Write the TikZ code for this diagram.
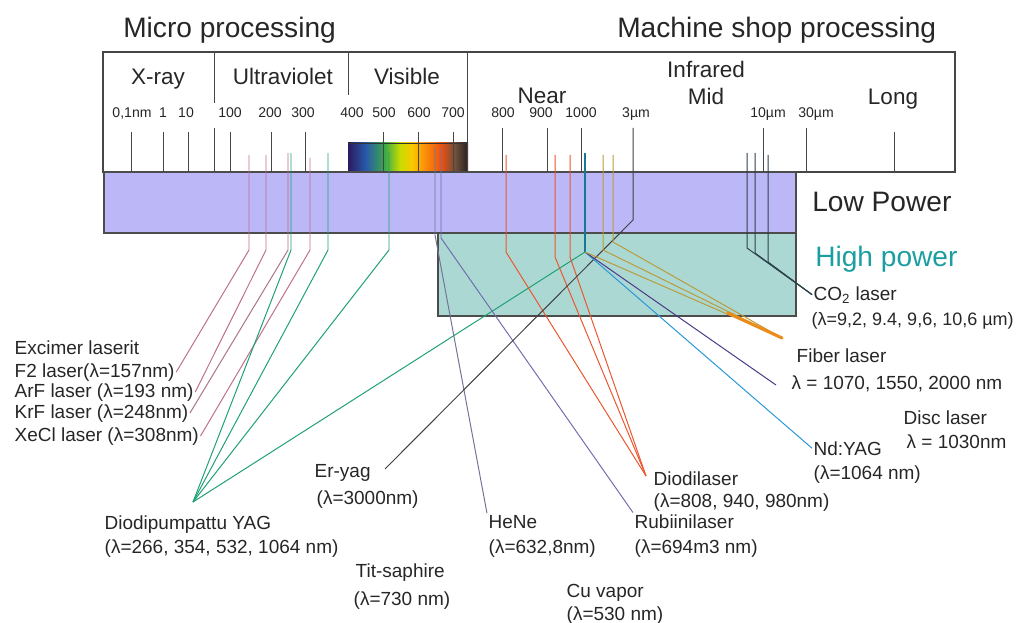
\documentclass[tikz,border=0pt]{standalone}
\usepackage{fontspec}
\setmainfont{Liberation Sans}
\usetikzlibrary{positioning}
\definecolor{lowpow}{RGB}{188,184,248}
\definecolor{highpow}{RGB}{172,216,212}
\definecolor{hptext}{RGB}{26,158,160}
\definecolor{tickgray}{RGB}{70,70,70}
\definecolor{excimer}{RGB}{190,110,140}
\definecolor{yaggreen}{RGB}{30,160,115}
\definecolor{yagblue}{RGB}{25,120,150}
\definecolor{diodered}{RGB}{235,85,45}
\definecolor{ndblue}{RGB}{40,150,215}
\definecolor{fiberpurple}{RGB}{75,55,135}
\definecolor{fiberorange}{RGB}{235,140,25}
\definecolor{fiberolive}{RGB}{185,155,60}
\definecolor{cotwo}{RGB}{45,65,75}
\definecolor{heneclr}{RGB}{115,115,150}
\definecolor{rubiclr}{RGB}{110,110,175}
\definecolor{vis1}{RGB}{45,25,95}
\definecolor{vis2}{RGB}{40,90,170}
\definecolor{vis3}{RGB}{60,170,70}
\definecolor{vis4}{RGB}{200,220,0}
\definecolor{vis5}{RGB}{250,200,0}
\definecolor{vis6}{RGB}{250,130,10}
\definecolor{vis7}{RGB}{230,80,20}
\definecolor{vis8}{RGB}{110,80,60}
\definecolor{vis9}{RGB}{40,30,30}

\begin{document}
\begin{tikzpicture}[x=0.025cm, y=-0.025cm,
  lbl/.style={font=\fontsize{13.5}{16}\selectfont, anchor=base west, inner sep=1pt, text=black!85},
  tk/.style={font=\fontsize{10}{11}\selectfont, anchor=base, inner sep=0pt, text=black!85},
  band/.style={font=\fontsize{16}{18}\selectfont, anchor=base, inner sep=0pt, text=black!85},
  big/.style={font=\fontsize{20}{22}\selectfont, anchor=base west, inner sep=0pt},
  tickline/.style={draw=tickgray, line width=0.6pt},
  laser/.style={line width=0.7pt}]
  \useasboundingbox (0,0) rectangle (1017,623);

  % 标题
  \node[big, text=black!85] (micro) at (123,38) {Micro processing};
  \node[big, text=black!85] (machine) at (617,38) {Machine shop processing};

  % 光谱框
  \draw[tickgray, line width=0.8pt] (103,52) rectangle (955,172);
  \draw[fill=lowpow, draw=black!70, line width=0.9pt] (104,172) rectangle (796,233);
  \draw[fill=highpow, draw=black!70, line width=0.9pt] (438,233) rectangle (796,316);
  \node[big, text=black!85] (low) at (812,211) {Low Power};
  \node[big, text=hptext] (high) at (815,266) {High power};

  % 可见光色带
  \shade[left color=vis1, right color=vis2] (348,143) rectangle (366,170);
  \shade[left color=vis2, right color=vis3] (366,143) rectangle (385,170);
  \shade[left color=vis3, right color=vis4] (385,143) rectangle (400,170);
  \shade[left color=vis4, right color=vis5] (400,143) rectangle (412,170);
  \shade[left color=vis5, right color=vis6] (412,143) rectangle (428,170);
  \shade[left color=vis6, right color=vis7] (428,143) rectangle (442,170);
  \shade[left color=vis7, right color=vis8] (442,143) rectangle (455,170);
  \shade[left color=vis8, right color=vis9] (455,143) rectangle (468,170);
  \draw[black!80, line width=0.6pt] (348,143) -- (468,143);

  % 分隔线与刻度
  \draw[tickline] (214,52) -- (214,103) (214,128) -- (214,172);
  \draw[tickline] (348,52) -- (348,95);
  \draw[tickline] (467,52) -- (467,172);
  \draw[tickline] (131,132) -- (131,172) (163,132) -- (163,172) (188,132) -- (188,172)
    (230,132) -- (230,172) (271,132) -- (271,172) (305,132) -- (305,172);
  \draw[tickline] (383,132) -- (383,172) (418,132) -- (418,172) (453,132) -- (453,172);
  \draw[tickline] (502,128) -- (502,172) (547,128) -- (547,172) (581,128) -- (581,172)
    (763,128) -- (763,172) (806,128) -- (806,172) (894,132) -- (894,172);

  % 波段名称
  \node[band] (xray) at (158,85) {X-ray};
  \node[band] (uv) at (283,85) {Ultraviolet};
  \node[band] (vis) at (407,85) {Visible};
  \node[band] (ir) at (706,78) {Infrared};
  \node[band] (near) at (542,104) {Near};
  \node[band] (mid) at (706,105) {Mid};
  \node[band] (long) at (893,105) {Long};

  % 刻度数字
  \node[tk] (t01) at (132,118) {0,1nm};
  \node[tk] (t1) at (163,118) {1};
  \node[tk] (t10) at (186,118) {10};
  \node[tk] (t100) at (230,118) {100};
  \node[tk] (t200) at (270,118) {200};
  \node[tk] (t300) at (303,118) {300};
  \node[tk] (t400) at (352,118) {400};
  \node[tk] (t500) at (384,118) {500};
  \node[tk] (t600) at (419,118) {600};
  \node[tk] (t700) at (453,118) {700};
  \node[tk] (t800) at (503,118) {800};
  \node[tk] (t900) at (541,118) {900};
  \node[tk] (t1000) at (581,118) {1000};
  \node[tk] (t3um) at (636,118) {3µm};
  \node[tk] (t10um) at (768,118) {10µm};
  \node[tk] (t30um) at (816,118) {30µm};

  % 激光名称
  \node[lbl] (exc) at (13,354) {Excimer laserit};
  \node[lbl] (f2) at (13,377) {F2 laser(λ=157nm)};
  \node[lbl] (arf) at (13,397) {ArF laser (λ=193 nm)};
  \node[lbl] (krf) at (13,418) {KrF laser (λ=248nm)};
  \node[lbl] (xecl) at (13,441) {XeCl laser (λ=308nm)};
  \node[lbl] (yag) at (103,529) {Diodipumpattu YAG};
  \node[lbl] (yagwl) at (103,553) {(λ=266, 354, 532, 1064 nm)};
  \node[lbl] (eryag) at (313,477) {Er-yag};
  \node[lbl] (eryagwl) at (315,504) {(λ=3000nm)};
  \node[lbl] (tisa) at (354,577) {Tit-saphire};
  \node[lbl] (tisawl) at (352,605) {(λ=730 nm)};
  \node[lbl] (hene) at (487,528) {HeNe};
  \node[lbl] (henewl) at (487,553) {(λ=632,8nm)};
  \node[lbl] (cu) at (565,597) {Cu vapor};
  \node[lbl] (cuwl) at (565,620) {(λ=530 nm)};
  \node[lbl] (rubi) at (633,528) {Rubiinilaser};
  \node[lbl] (rubiwl) at (633,553) {(λ=694m3 nm)};
  \node[lbl] (diode) at (652,485) {Diodilaser};
  \node[lbl] (diodewl) at (652,507) {(λ=808, 940, 980nm)};
  \node[lbl] (ndyag) at (812,455) {Nd:YAG};
  \node[lbl] (ndyagwl) at (812,479) {(λ=1064 nm)};
  \node[lbl] (disc) at (902,424) {Disc laser};
  \node[lbl] (discwl) at (905,448) {λ = 1030nm};
  \node[lbl] (fiber) at (795,362) {Fiber laser};
  \node[lbl] (fiberwl) at (790,389) {λ = 1070, 1550, 2000 nm};
  \node[lbl] (co2) at (812,300) {CO\textsubscript{2} laser};
  \node[lbl, font=\fontsize{12.8}{16}\selectfont] (co2wl) at (810,325) {(λ=9,2, 9.4, 9,6, 10,6 µm)};

  % 汇合点
  \coordinate (yagpt) at (193,502);
  \coordinate (hub) at (585,252);
  \coordinate (diodept) at (646,476);
  \coordinate (eryagpt) at (385,469);
  \coordinate (orangemid) at (728,313);
  \coordinate (orangeend) at (782,338);
  \coordinate (fiberpt) at (776,385);

  % 准分子激光
  \coordinate (f2top) at (249,155);
  \coordinate (arftop) at (266,155);
  \coordinate (krftop) at (288,153);
  \coordinate (xecltop) at (310,158);
  \draw[laser, excimer] (f2top) -- ++(0,95) -- (f2.east);
  \draw[laser, excimer] (arftop) -- ++(0,95) -- (arf.east);
  \draw[laser, excimer!70!gray] (krftop) -- ++(0,97) -- (krf.east);
  \draw[laser, excimer] (xecltop) -- ++(0,92) -- (xecl.east);

  % 二极管泵浦 YAG
  \coordinate (yag1top) at (291,153);
  \coordinate (yag2top) at (328,153);
  \coordinate (yag3top) at (389,153);
  \coordinate (yag4top) at (585,153);
  \draw[laser, yaggreen] (yag1top) -- ++(0,97) -- (yagpt);
  \draw[laser, yaggreen] (yag2top) -- ++(0,97) -- (yagpt);
  \draw[laser, yaggreen] (yag3top) -- ++(0,97) -- (yagpt);
  \draw[laser, yagblue, line width=1pt] (yag4top) -- (hub);
  \draw[laser, yaggreen] (hub) -- (yagpt);

  % HeNe 与红宝石
  \coordinate (henetop) at (435,148);
  \coordinate (rubitop) at (441,148);
  \draw[laser, heneclr] (henetop) -- ++(0,87) -- (hene.north west);
  \draw[laser, rubiclr] (rubitop) -- ++(0,90) -- (rubi.north west);

  % 二极管激光
  \coordinate (d1top) at (506,155);
  \coordinate (d2top) at (555,155);
  \coordinate (d3top) at (570,155);
  \draw[laser, diodered] (d1top) -- ++(0,97) -- (diodept);
  \draw[laser, diodered] (d2top) -- ++(0,102) -- (diodept);
  \draw[laser, diodered] (d3top) -- ++(0,102) -- (diodept);

  % Er-yag
  \coordinate (ertop) at (633,128);
  \draw[laser, black!75] (ertop) -- ++(0,92) -- (eryagpt);

  % Nd:YAG 与光纤激光
  \draw[laser, ndblue] (hub) -- (ndyag.west);
  \draw[laser, fiberpurple] (hub) -- (fiberpt);
  \coordinate (fib1top) at (603,155);
  \coordinate (fib2top) at (613,155);
  \draw[laser, fiberolive] (fib1top) -- ++(0,95) -- (orangeend);
  \draw[laser, fiberolive] (fib2top) -- ++(0,87) -- (orangeend);
  \draw[laser, fiberolive] (hub) -- (orangeend);
  \draw[fiberorange, line width=2.2pt, line cap=round] (orangemid) -- (orangeend);

  % CO2 激光
  \coordinate (co1top) at (747,153);
  \coordinate (co2top) at (755,153);
  \coordinate (co3top) at (768,155);
  \draw[laser, cotwo] (co1top) -- ++(0,95) -- (co2.west);
  \draw[laser, cotwo] (co2top) -- ++(0,100) -- (co2.west);
  \draw[laser, cotwo] (co3top) -- ++(0,107) -- (co2.west);
\end{tikzpicture}
\end{document}
